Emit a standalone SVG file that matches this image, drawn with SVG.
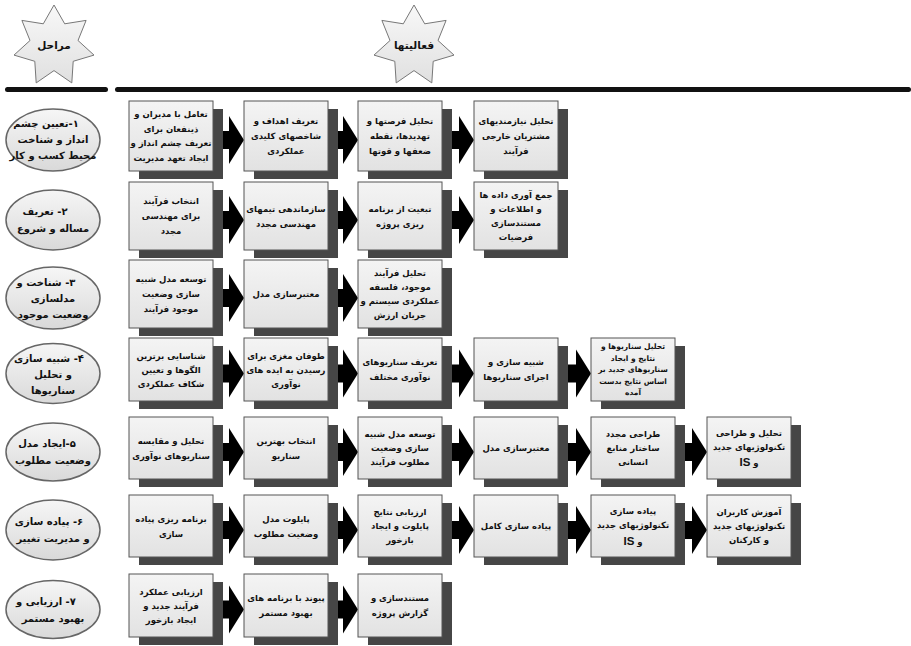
<svg xmlns="http://www.w3.org/2000/svg" width="911" height="646" viewBox="0 0 911 646">
<defs>
<linearGradient id="boxg" x1="0" y1="0" x2="0" y2="1"><stop offset="0" stop-color="#f4f4f4"/><stop offset="1" stop-color="#e2e2e2"/></linearGradient>
<linearGradient id="elg" x1="0" y1="0" x2="0" y2="1"><stop offset="0" stop-color="#f6f6f6"/><stop offset="1" stop-color="#d9d9d9"/></linearGradient>
<linearGradient id="stg" x1="0" y1="0" x2="0" y2="1"><stop offset="0" stop-color="#f8f8f8"/><stop offset="1" stop-color="#e0e0e0"/></linearGradient>
<path id="arr" d="M-40,-9 L-15,-9 L-15,-24 L0,0 L-15,24 L-15,9 L-40,9 Z"/>
</defs>
<style>
.box{fill:url(#boxg);stroke:#555;stroke-width:1}
.sh{fill:#464646}
.t{font-family:'DejaVu Sans',sans-serif;font-weight:bold;font-size:8.5px;fill:#111;text-anchor:middle;direction:rtl}
.s7{font-size:7.5px}
.is{font-family:'Liberation Sans',Arial,sans-serif;font-size:11.5px}
.el{fill:url(#elg);stroke:#666;stroke-width:1.5}
.et{font-size:10px}
.ht{font-size:10.5px}
.st{fill:url(#stg);stroke:#777;stroke-width:1}
.bar{fill:#111}
.arr{fill:#000}
</style>
<rect width="911" height="646" fill="#fff"/>

<g id="header">
<g id="star-stages"><polygon class="st" points="54,5 64.7,23.8 86.1,20.4 78,40.5 94,55.1 73.2,61.3 71.8,82.9 54,70.6 36.2,82.9 34.8,61.3 14,55.1 30,40.5 21.9,20.4 43.3,23.8"/><text class="t ht" x="54" y="49">مراحل</text></g>
<g id="star-activities"><polygon class="st" points="414,5 424.7,23.8 446.1,20.4 438,40.5 454,55.1 433.2,61.3 431.8,82.9 414,70.6 396.2,82.9 394.8,61.3 374,55.1 390,40.5 381.9,20.4 403.3,23.8"/><text class="t ht" x="414" y="49">فعالیتها</text></g>
<rect class="bar" x="5" y="87" width="103" height="5" rx="2.5"/>
<rect class="bar" x="115" y="87" width="796" height="5" rx="2.5"/>
</g>

<g id="connectors" class="arr">
<use href="#arr" x="244" y="140"/><use href="#arr" x="358" y="140"/><use href="#arr" x="474" y="140"/>
<use href="#arr" x="244" y="220"/><use href="#arr" x="358" y="220"/><use href="#arr" x="474" y="220"/>
<use href="#arr" x="244" y="298"/><use href="#arr" x="358" y="298"/>
<use href="#arr" x="244" y="373.5"/><use href="#arr" x="358" y="373.5"/><use href="#arr" x="474" y="373.5"/><use href="#arr" x="591" y="373.5"/>
<use href="#arr" x="244" y="452"/><use href="#arr" x="358" y="452"/><use href="#arr" x="474" y="452"/><use href="#arr" x="591" y="452"/><use href="#arr" x="707" y="452"/>
<use href="#arr" x="244" y="530"/><use href="#arr" x="358" y="530"/><use href="#arr" x="474" y="530"/><use href="#arr" x="591" y="530"/><use href="#arr" x="707" y="530"/>
<use href="#arr" x="244" y="609.5"/><use href="#arr" x="358" y="609.5"/>
</g>

<g id="stage1"><ellipse class="el" cx="53" cy="140" rx="47" ry="31"/><text class="t et"><tspan x="46" y="127">۱-تعیین چشم</tspan><tspan x="53" y="143">انداز و شناخت</tspan><tspan x="53" y="159">محیط کسب و کار</tspan></text></g>
<g id="stage2"><ellipse class="el" cx="53" cy="220" rx="47" ry="30"/><text class="t et"><tspan x="45" y="215">۲- تعریف</tspan><tspan x="53" y="232">مساله و شروع</tspan></text></g>
<g id="stage3"><ellipse class="el" cx="53" cy="298" rx="47" ry="31"/><text class="t et"><tspan x="46" y="286">۳- شناخت و</tspan><tspan x="53" y="302">مدلسازی</tspan><tspan x="53" y="318">وضعیت موجود</tspan></text></g>
<g id="stage4"><ellipse class="el" cx="53" cy="373.5" rx="47" ry="30"/><text class="t et"><tspan x="49" y="361.5">۴- شبیه سازی</tspan><tspan x="53" y="377.5">و تحلیل</tspan><tspan x="53" y="393.5">سناریوها</tspan></text></g>
<g id="stage5"><ellipse class="el" cx="53" cy="452" rx="47" ry="29"/><text class="t et"><tspan x="47" y="447">۵-ایجاد مدل</tspan><tspan x="53" y="464">وضعیت مطلوب</tspan></text></g>
<g id="stage6"><ellipse class="el" cx="53" cy="530" rx="47" ry="30"/><text class="t et"><tspan x="49" y="525">۶- پیاده سازی</tspan><tspan x="53" y="542">و مدیریت تغییر</tspan></text></g>
<g id="stage7"><ellipse class="el" cx="53" cy="609.5" rx="47" ry="29"/><text class="t et"><tspan x="46" y="604.5">۷- ارزیابی و</tspan><tspan x="53" y="621.5">بهبود مستمر</tspan></text></g>

<g id="a11"><rect class="sh" x="139" y="109" width="84" height="70"/><rect class="box" x="129" y="101" width="84" height="70"/><text class="t"><tspan x="171" y="117">تعامل با مدیران و</tspan><tspan x="171" y="132">ذینفعان برای</tspan><tspan x="171" y="146">تعریف چشم انداز و</tspan><tspan x="171" y="161">ایجاد تعهد مدیریت</tspan></text></g>
<g id="a12"><rect class="sh" x="254" y="109" width="84" height="70"/><rect class="box" x="244" y="101" width="84" height="70"/><text class="t"><tspan x="286" y="124">تعریف اهداف و</tspan><tspan x="286" y="139">شاخصهای کلیدی</tspan><tspan x="286" y="154">عملکردی</tspan></text></g>
<g id="a13"><rect class="sh" x="368" y="109" width="84" height="70"/><rect class="box" x="358" y="101" width="84" height="70"/><text class="t"><tspan x="400" y="124">تحلیل فرصتها و</tspan><tspan x="400" y="139">تهدیدها، نقطه</tspan><tspan x="400" y="154">ضعفها و قوتها</tspan></text></g>
<g id="a14"><rect class="sh" x="484" y="109" width="84" height="70"/><rect class="box" x="474" y="101" width="84" height="70"/><text class="t"><tspan x="516" y="124">تحلیل نیازمندیهای</tspan><tspan x="516" y="139">مشتریان خارجی</tspan><tspan x="516" y="154">فرآیند</tspan></text></g>

<g id="a21"><rect class="sh" x="139" y="190" width="84" height="68"/><rect class="box" x="129" y="182" width="84" height="68"/><text class="t"><tspan x="171" y="204">انتخاب فرآیند</tspan><tspan x="171" y="219">برای مهندسی</tspan><tspan x="171" y="234">مجدد</tspan></text></g>
<g id="a22"><rect class="sh" x="254" y="190" width="84" height="68"/><rect class="box" x="244" y="182" width="84" height="68"/><text class="t"><tspan x="286" y="211.5">سازماندهی تیمهای</tspan><tspan x="286" y="226.5">مهندسی مجدد</tspan></text></g>
<g id="a23"><rect class="sh" x="368" y="190" width="84" height="68"/><rect class="box" x="358" y="182" width="84" height="68"/><text class="t"><tspan x="400" y="211.5">تبعیت از برنامه</tspan><tspan x="400" y="226.5">ریزی پروژه</tspan></text></g>
<g id="a24"><rect class="sh" x="484" y="190" width="84" height="68"/><rect class="box" x="474" y="182" width="84" height="68"/><text class="t"><tspan x="516" y="198">جمع آوری داده ها</tspan><tspan x="516" y="212">و اطلاعات و</tspan><tspan x="516" y="226">مستندسازی</tspan><tspan x="516" y="240">فرضیات</tspan></text></g>

<g id="a31"><rect class="sh" x="139" y="268" width="84" height="68"/><rect class="box" x="129" y="260" width="84" height="68"/><text class="t"><tspan x="171" y="282">توسعه مدل شبیه</tspan><tspan x="171" y="297">سازی وضعیت</tspan><tspan x="171" y="312">موجود فرآیند</tspan></text></g>
<g id="a32"><rect class="sh" x="254" y="268" width="84" height="68"/><rect class="box" x="244" y="260" width="84" height="68"/><text class="t"><tspan x="286" y="297">معتبرسازی مدل</tspan></text></g>
<g id="a33"><rect class="sh" x="368" y="268" width="84" height="68"/><rect class="box" x="358" y="260" width="84" height="68"/><text class="t"><tspan x="400" y="276">تحلیل فرآیند</tspan><tspan x="400" y="290">موجود، فلسفه</tspan><tspan x="400" y="304">عملکردی سیستم و</tspan><tspan x="400" y="318">جریان ارزش</tspan></text></g>

<g id="a41"><rect class="sh" x="139" y="346" width="84" height="63"/><rect class="box" x="129" y="338" width="84" height="63"/><text class="t"><tspan x="171" y="358.5">شناسایی برترین</tspan><tspan x="171" y="372.5">الگوها و تعیین</tspan><tspan x="171" y="386.5">شکاف عملکردی</tspan></text></g>
<g id="a42"><rect class="sh" x="254" y="346" width="84" height="63"/><rect class="box" x="244" y="338" width="84" height="63"/><text class="t"><tspan x="286" y="358.5">طوفان مغزی برای</tspan><tspan x="286" y="372.5">رسیدن به ایده های</tspan><tspan x="286" y="386.5">نوآوری</tspan></text></g>
<g id="a43"><rect class="sh" x="368" y="346" width="84" height="63"/><rect class="box" x="358" y="338" width="84" height="63"/><text class="t"><tspan x="400" y="365">تعریف سناریوهای</tspan><tspan x="400" y="380">نوآوری مختلف</tspan></text></g>
<g id="a44"><rect class="sh" x="484" y="346" width="84" height="63"/><rect class="box" x="474" y="338" width="84" height="63"/><text class="t"><tspan x="516" y="365">شبیه سازی و</tspan><tspan x="516" y="380">اجرای سناریوها</tspan></text></g>
<g id="a45"><rect class="sh" x="601" y="346" width="84" height="63"/><rect class="box" x="591" y="338" width="84" height="63"/><text class="t s7"><tspan x="633" y="349">تحلیل سناریوها و</tspan><tspan x="633" y="360.5">نتایج و ایجاد</tspan><tspan x="633" y="372">سناریوهای جدید بر</tspan><tspan x="633" y="383.5">اساس نتایج بدست</tspan><tspan x="633" y="395">آمده</tspan></text></g>

<g id="a51"><rect class="sh" x="139" y="425" width="84" height="62"/><rect class="box" x="129" y="417" width="84" height="62"/><text class="t"><tspan x="171" y="443.5">تحلیل و مقایسه</tspan><tspan x="171" y="458.5">سناریوهای نوآوری</tspan></text></g>
<g id="a52"><rect class="sh" x="254" y="425" width="84" height="62"/><rect class="box" x="244" y="417" width="84" height="62"/><text class="t"><tspan x="286" y="443.5">انتخاب بهترین</tspan><tspan x="286" y="458.5">سناریو</tspan></text></g>
<g id="a53"><rect class="sh" x="368" y="425" width="84" height="62"/><rect class="box" x="358" y="417" width="84" height="62"/><text class="t"><tspan x="400" y="437">توسعه مدل شبیه</tspan><tspan x="400" y="451">سازی وضعیت</tspan><tspan x="400" y="465">مطلوب فرآیند</tspan></text></g>
<g id="a54"><rect class="sh" x="484" y="425" width="84" height="62"/><rect class="box" x="474" y="417" width="84" height="62"/><text class="t"><tspan x="516" y="451">معتبرسازی مدل</tspan></text></g>
<g id="a55"><rect class="sh" x="601" y="425" width="84" height="62"/><rect class="box" x="591" y="417" width="84" height="62"/><text class="t"><tspan x="633" y="437">طراحی مجدد</tspan><tspan x="633" y="451">ساختار منابع</tspan><tspan x="633" y="465">انسانی</tspan></text></g>
<g id="a56"><rect class="sh" x="717" y="425" width="84" height="62"/><rect class="box" x="707" y="417" width="84" height="62"/><text class="t"><tspan x="749" y="436">تحلیل و طراحی</tspan><tspan x="749" y="450">تکنولوژیهای جدید</tspan><tspan x="749" y="466">و <tspan class="is">IS</tspan></tspan></text></g>

<g id="a61"><rect class="sh" x="139" y="503" width="84" height="62"/><rect class="box" x="129" y="495" width="84" height="62"/><text class="t"><tspan x="171" y="521.5">برنامه ریزی پیاده</tspan><tspan x="171" y="536.5">سازی</tspan></text></g>
<g id="a62"><rect class="sh" x="254" y="503" width="84" height="62"/><rect class="box" x="244" y="495" width="84" height="62"/><text class="t"><tspan x="286" y="521.5">پایلوت مدل</tspan><tspan x="286" y="536.5">وضعیت مطلوب</tspan></text></g>
<g id="a63"><rect class="sh" x="368" y="503" width="84" height="62"/><rect class="box" x="358" y="495" width="84" height="62"/><text class="t"><tspan x="400" y="515">ارزیابی نتایج</tspan><tspan x="400" y="529">پایلوت و ایجاد</tspan><tspan x="400" y="543">بازخور</tspan></text></g>
<g id="a64"><rect class="sh" x="484" y="503" width="84" height="62"/><rect class="box" x="474" y="495" width="84" height="62"/><text class="t"><tspan x="516" y="529">پیاده سازی کامل</tspan></text></g>
<g id="a65"><rect class="sh" x="601" y="503" width="84" height="62"/><rect class="box" x="591" y="495" width="84" height="62"/><text class="t"><tspan x="633" y="514">پیاده سازی</tspan><tspan x="633" y="528">تکنولوژیهای جدید</tspan><tspan x="633" y="545">و <tspan class="is">IS</tspan></tspan></text></g>
<g id="a66"><rect class="sh" x="717" y="503" width="84" height="62"/><rect class="box" x="707" y="495" width="84" height="62"/><text class="t"><tspan x="749" y="515">آموزش کاربران</tspan><tspan x="749" y="529">تکنولوژیهای جدید</tspan><tspan x="749" y="543">و کارکنان</tspan></text></g>

<g id="a71"><rect class="sh" x="139" y="582" width="84" height="63"/><rect class="box" x="129" y="574" width="84" height="63"/><text class="t"><tspan x="171" y="594.5">ارزیابی عملکرد</tspan><tspan x="171" y="608.5">فرآیند جدید و</tspan><tspan x="171" y="622.5">ایجاد بازخور</tspan></text></g>
<g id="a72"><rect class="sh" x="254" y="582" width="84" height="63"/><rect class="box" x="244" y="574" width="84" height="63"/><text class="t"><tspan x="286" y="601">پیوند با برنامه های</tspan><tspan x="286" y="616">بهبود مستمر</tspan></text></g>
<g id="a73"><rect class="sh" x="368" y="582" width="84" height="63"/><rect class="box" x="358" y="574" width="84" height="63"/><text class="t"><tspan x="400" y="601">مستندسازی و</tspan><tspan x="400" y="616">گزارش پروژه</tspan></text></g>
</svg>
